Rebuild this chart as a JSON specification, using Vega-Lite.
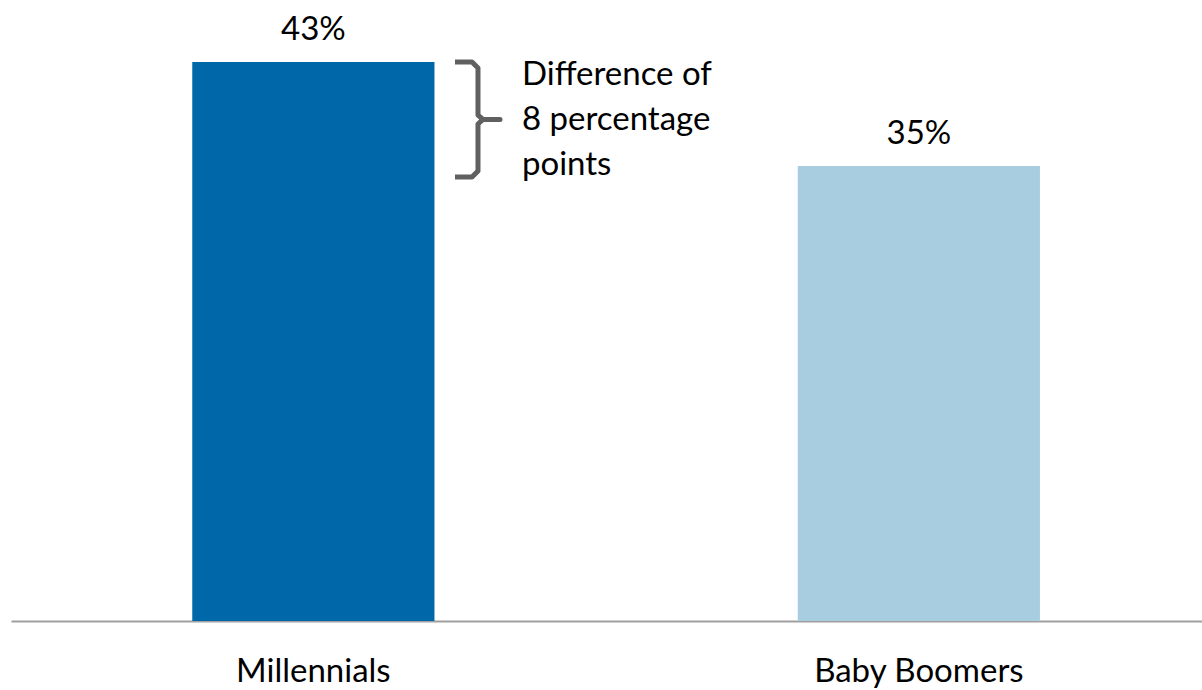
{
  "$schema": "https://vega.github.io/schema/vega-lite/v6.json",
  "width": 1191,
  "height": 621,
  "autosize": {"type": "none"},
  "padding": {"left": 11, "top": 0, "right": 0, "bottom": 69},
  "background": "white",
  "config": {
    "view": {"stroke": null},
    "font": "Lato",
    "text": {"font": "Lato"}
  },
  "resolve": {"scale": {"x": "independent"}},
  "layer": [
    {
      "data": {"values": [
        {"group": "Millennials", "value": 43, "label": "43%"},
        {"group": "Baby Boomers", "value": 35, "label": "35%"}
      ]},
      "encoding": {
        "x": {
          "field": "group",
          "type": "nominal",
          "sort": null,
          "scale": {"paddingInner": 0.6, "paddingOuter": 0.2835, "align": 0.528},
          "axis": {
            "title": null,
            "ticks": false,
            "tickSize": 0,
            "domainColor": "#a0a0a0",
            "domainWidth": 2,
            "labelFont": "Lato",
            "labelFontSize": 33,
            "labelColor": "#000000",
            "labelAngle": 0,
            "labelLimit": 0,
            "labelBaseline": "alphabetic",
            "labelPadding": 60
          }
        },
        "y": {
          "field": "value",
          "type": "quantitative",
          "scale": {"domain": [0, 47.77], "nice": false},
          "axis": null
        }
      },
      "layer": [
        {
          "mark": {"type": "bar"},
          "encoding": {
            "color": {
              "field": "group",
              "type": "nominal",
              "scale": {"domain": ["Millennials", "Baby Boomers"], "range": ["#0068A8", "#A9CDE0"]},
              "legend": null
            }
          }
        },
        {
          "mark": {"type": "text", "baseline": "alphabetic", "dy": -22, "fontSize": 33, "color": "#000000"},
          "encoding": {
            "text": {"field": "label", "type": "nominal"}
          }
        }
      ]
    },
    {
      "data": {"values": [
        {"i": 1, "px": 0.3728, "py": 43.0},
        {"i": 2, "px": 0.3871, "py": 43.0},
        {"i": 3, "px": 0.3921, "py": 42.54},
        {"i": 4, "px": 0.3921, "py": 38.92},
        {"i": 5, "px": 0.3963, "py": 38.58},
        {"i": 6, "px": 0.4106, "py": 38.58},
        {"i": 7, "px": 0.3963, "py": 38.58},
        {"i": 8, "px": 0.3921, "py": 38.23},
        {"i": 9, "px": 0.3921, "py": 34.62},
        {"i": 10, "px": 0.3871, "py": 34.15},
        {"i": 11, "px": 0.3728, "py": 34.15}
      ]},
      "mark": {"type": "line", "color": "#606060", "strokeWidth": 5, "strokeJoin": "round", "strokeCap": "butt"},
      "encoding": {
        "x": {"field": "px", "type": "quantitative", "scale": {"domain": [0, 1], "nice": false, "zero": false}, "axis": null},
        "y": {"field": "py", "type": "quantitative"},
        "order": {"field": "i", "type": "quantitative"}
      }
    },
    {
      "data": {"values": [
        {"px": 0.429, "py": 42.0, "label": "Difference of\n8 percentage\npoints"}
      ]},
      "mark": {"type": "text", "align": "left", "baseline": "middle", "lineBreak": "\n", "lineHeight": 45, "fontSize": 33, "color": "#000000"},
      "encoding": {
        "x": {"field": "px", "type": "quantitative", "scale": {"domain": [0, 1], "nice": false, "zero": false}, "axis": null},
        "y": {"field": "py", "type": "quantitative"},
        "text": {"field": "label"}
      }
    }
  ]
}
